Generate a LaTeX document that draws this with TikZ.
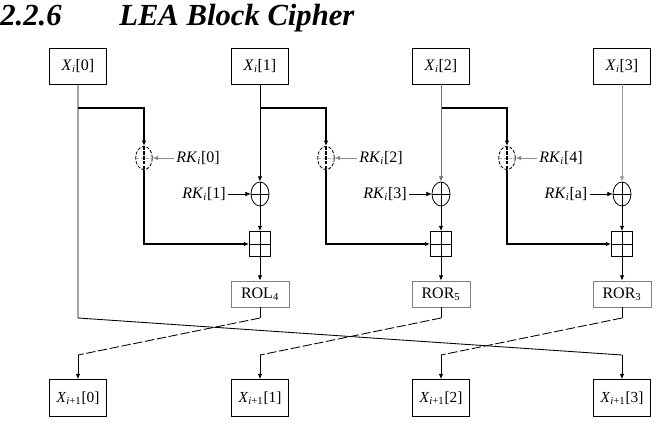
\documentclass[tikz,border=0pt]{standalone}
\usepackage{fontspec}
\setmainfont{Liberation Serif}
\usetikzlibrary{arrows.meta,shapes.geometric}
\newcommand{\Xin}[1]{\textit{X}\textsubscript{\textit{i}}[#1]}
\newcommand{\Xnext}[1]{\textit{X}\textsubscript{\textit{i}+1}[#1]}
\newcommand{\RK}[1]{\textit{RK}\textsubscript{\textit{i}}[#1]}
\tikzset{
    wordbox/.style={draw, line width=0.6pt, minimum width=42.75pt, minimum height=27pt, inner sep=0pt, font=\fontsize{12}{14}\selectfont},
    outbox/.style={wordbox, minimum height=27.75pt, font=\fontsize{11.5}{13}\selectfont},
    rotbox/.style={draw=black!50, line width=0.6pt, minimum width=43.5pt, minimum height=19.5pt, inner sep=0pt, font=\fontsize{12}{14}\selectfont},
    plussign/.style={path picture={\draw (path picture bounding box.north) -- (path picture bounding box.south) (path picture bounding box.west) -- (path picture bounding box.east);}},
    xorop/.style={ellipse, draw, line width=0.6pt, plussign, minimum width=13.5pt, minimum height=18pt, inner sep=0pt},
    keyop/.style={ellipse, draw, line width=0.6pt, dash pattern=on 2.5pt off 1.2pt, minimum width=12.5pt, minimum height=17.5pt, inner sep=0pt,
        path picture={\draw[black!30] (path picture bounding box.west) -- (path picture bounding box.east);
                      \draw[line width=0.9pt] (path picture bounding box.north) -- (path picture bounding box.south);}},
    addop/.style={rectangle, draw, line width=0.6pt, plussign, minimum width=15.75pt, minimum height=18.75pt, inner sep=0pt},
    keylabel/.style={inner sep=1.5pt, font=\fontsize{12}{14}\selectfont},
    flow/.style={-{Latex[length=4pt,width=3.5pt]}},
    branch/.style={line width=1pt},
    wire/.style={line width=0.65pt},
    swap/.style={wire, dash pattern=on 7pt off 2pt},
}
\begin{document}
\begin{tikzpicture}[x=0.75pt,y=-0.75pt]
\useasboundingbox (0,0) rectangle (665,429);

% Heading
\node[anchor=base west, inner sep=0pt, font=\fontsize{23}{26}\selectfont\bfseries\itshape] (secnum) at (0,25) {2.2.6};
\node[anchor=base west, inner sep=0pt, font=\fontsize{23}{26}\selectfont\bfseries\itshape] (sectitle) at (119,25) {LEA Block Cipher};

% Input words
\node[wordbox] (in0) at (78,66) {\Xin{0}};
\node[wordbox] (in1) at (260,66) {\Xin{1}};
\node[wordbox] (in2) at (441,66) {\Xin{2}};
\node[wordbox] (in3) at (622,66) {\Xin{3}};

% Round key XORs (dashed)
\node[keyop] (k0) at (144,158) {};
\node[keyop] (k1) at (326,158) {};
\node[keyop] (k2) at (507,158) {};
\node[keylabel] (rk0) at (198,158) {\RK{0}};
\node[keylabel] (rk2) at (381,158) {\RK{2}};
\node[keylabel] (rk4) at (561,158) {\RK{4}};

% Round key XORs
\node[xorop] (x1) at (260,194) {};
\node[xorop] (x2) at (441,194) {};
\node[xorop] (x3) at (622,194) {};
\node[keylabel] (rk1) at (204,194) {\RK{1}};
\node[keylabel] (rk3) at (385,194) {\RK{3}};
\node[keylabel] (rk5) at (566,194) {\RK{a}};

% Modular additions
\node[addop] (a1) at (260,244) {};
\node[addop] (a2) at (441,244) {};
\node[addop] (a3) at (622,244) {};

% Rotations
\node[rotbox] (r1) at (260,294) {ROL\textsubscript{4}};
\node[rotbox] (r2) at (441,294) {ROR\textsubscript{5}};
\node[rotbox] (r3) at (622,294) {ROR\textsubscript{3}};

% Output words
\node[outbox] (out0) at (78,398) {\Xnext{0}};
\node[outbox] (out1) at (260,398) {\Xnext{1}};
\node[outbox] (out2) at (441,398) {\Xnext{2}};
\node[outbox] (out3) at (622,398) {\Xnext{3}};

% Bend points
\coordinate (b0) at (78,108);
\coordinate (b1) at (260,108);
\coordinate (b2) at (441,108);
\coordinate (d0) at (78,318);
\coordinate (d1) at (260,318);
\coordinate (d2) at (441,318);
\coordinate (d3) at (622,318);
\coordinate (e0) at (78,355);
\coordinate (e1) at (260,355);
\coordinate (e2) at (441,355);
\coordinate (e3) at (622,355);

% Branches
\draw[branch, flow] (b0) -| (k0.north);
\draw[branch, flow] (k0.south) |- (a1.west);
\draw[branch, flow] (b1) -| (k1.north);
\draw[branch, flow] (k1.south) |- (a2.west);
\draw[branch, flow] (b2) -| (k2.north);
\draw[branch, flow] (k2.south) |- (a3.west);

% Keys
\draw[flow, black!45] (rk0.west) -- (k0.east);
\draw[flow, black!45] (rk2.west) -- (k1.east);
\draw[flow, black!45] (rk4.west) -- (k2.east);
\draw[flow] (rk1.east) -- (x1.west);
\draw[flow] (rk3.east) -- (x2.west);
\draw[flow] (rk5.east) -- (x3.west);

% Columns
\draw[wire, flow] (in1) -- (x1);
\draw[wire, black!55, flow] (in2) -- (x2);
\draw[wire, black!40, flow] (in3) -- (x3);
\draw[wire, flow] (x1) -- (a1);
\draw[wire, flow] (x2) -- (a2);
\draw[wire, flow] (x3) -- (a3);
\draw[wire, flow] (a1) -- (r1);
\draw[wire, flow] (a2) -- (r2);
\draw[wire, flow] (a3) -- (r3);

% Word permutation
\draw[wire] (in0) -- (d0) -- (e3);
\draw[wire, flow] (e3) -- (out3);
\draw[wire] (r1) -- (d1);
\draw[swap] (d1) -- (e0);
\draw[wire, flow] (e0) -- (out0);
\draw[wire] (r2) -- (d2);
\draw[swap] (d2) -- (e1);
\draw[wire, flow] (e1) -- (out1);
\draw[wire] (r3) -- (d3);
\draw[swap] (d3) -- (e2);
\draw[wire, flow] (e2) -- (out2);
\end{tikzpicture}
\end{document}
